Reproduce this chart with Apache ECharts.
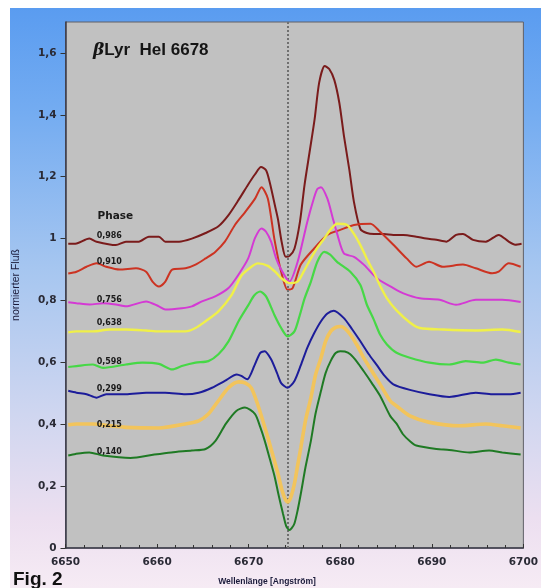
<!DOCTYPE html>
<html><head><meta charset="utf-8">
<script src="https://cdn.jsdelivr.net/npm/echarts@6/dist/echarts.min.js"></script>
<style>html,body{margin:0;padding:0;background:#fff}#c{width:541px;height:588px}</style>
</head><body><div id="c"></div>
<script>
// ---- data ----
const phaseNames = ['0,986','0,910','0,756','0,638','0,598','0,299','0,215','0,140'];
const phaseLabelY = [1.009,0.925,0.803,0.726,0.601,0.514,0.398,0.312];
const yTicks = [0,0.2,0.4,0.6,0.8,1,1.2,1.4,1.6];
const xTicks = [6650,6660,6670,6680,6690,6700];
const lineCenter = 6674.3;

const p0986 = [[6650.3,0.983],[6651.2,0.984],[6652.6,1.000],[6653.4,0.990],[6655.5,0.979],[6656.6,0.990],[6658.0,0.990],[6659.1,1.006],[6660.2,1.006],[6660.9,0.990],[6662.4,0.990],[6663.8,1.000],[6665.3,1.018],[6666.7,1.040],[6667.8,1.076],[6668.9,1.125],[6669.95,1.175],[6670.7,1.208],[6671.35,1.231],[6671.9,1.221],[6672.3,1.182],[6672.9,1.103],[6673.2,1.063],[6673.6,0.990],[6674.05,0.941],[6674.5,0.945],[6675.0,0.967],[6675.6,1.054],[6676.1,1.173],[6676.65,1.279],[6677.2,1.385],[6677.7,1.504],[6678.3,1.558],[6678.8,1.548],[6679.35,1.513],[6679.9,1.439],[6680.4,1.333],[6681.0,1.221],[6681.5,1.118],[6682.2,1.031],[6682.9,1.018],[6683.7,1.015],[6684.75,1.015],[6685.8,1.012],[6686.9,1.012],[6688.3,1.006],[6689.4,1.000],[6690.5,0.996],[6691.6,0.990],[6692.65,1.012],[6693.4,1.015],[6694.5,0.996],[6695.9,0.990],[6697.3,1.012],[6698.4,0.990],[6699.1,0.980],[6699.8,0.983]];

const p0910 = [[6650.3,0.887],[6651.2,0.893],[6652.3,0.909],[6653.4,0.920],[6654.45,0.909],[6655.9,0.900],[6657.7,0.904],[6658.8,0.893],[6659.5,0.861],[6660.2,0.845],[6660.9,0.861],[6661.65,0.900],[6663.1,0.904],[6664.2,0.916],[6665.3,0.936],[6666.35,0.957],[6667.4,0.990],[6668.5,1.044],[6669.6,1.085],[6670.7,1.129],[6671.4,1.166],[6672.1,1.129],[6672.8,1.000],[6673.55,0.893],[6674.25,0.835],[6674.8,0.840],[6675.7,0.916],[6677.15,0.968],[6678.6,1.012],[6680.0,1.028],[6681.5,1.044],[6683.3,1.048],[6684.35,1.022],[6685.8,0.980],[6687.25,0.936],[6688.3,0.909],[6689.7,0.925],[6691.2,0.909],[6693.4,0.916],[6694.8,0.904],[6696.6,0.888],[6697.3,0.893],[6698.4,0.920],[6699.7,0.909]];

const p0756 = [[6650.3,0.794],[6651.2,0.791],[6652.65,0.787],[6654.1,0.791],[6655.5,0.787],[6656.6,0.781],[6658.8,0.797],[6660.2,0.781],[6660.9,0.771],[6662.7,0.775],[6663.8,0.781],[6664.9,0.797],[6666.35,0.813],[6667.8,0.840],[6668.9,0.884],[6669.95,0.936],[6670.7,1.002],[6671.4,1.033],[6671.9,1.022],[6672.45,0.990],[6673.0,0.936],[6673.55,0.900],[6674.45,0.861],[6675.35,0.925],[6676.4,1.054],[6677.1,1.128],[6677.5,1.160],[6677.9,1.166],[6678.6,1.129],[6679.15,1.070],[6679.7,1.012],[6680.4,0.952],[6681.5,0.941],[6682.6,0.915],[6684.0,0.872],[6685.8,0.840],[6686.9,0.823],[6688.7,0.807],[6690.85,0.802],[6692.65,0.786],[6694.8,0.802],[6697.7,0.802],[6699.7,0.795]];

const p0638 = [[6650.3,0.697],[6651.2,0.700],[6653.0,0.700],[6654.8,0.706],[6656.6,0.706],[6658.8,0.703],[6660.2,0.700],[6663.1,0.700],[6664.2,0.711],[6665.3,0.733],[6666.7,0.765],[6668.15,0.818],[6669.2,0.880],[6670.3,0.909],[6671.0,0.920],[6672.1,0.912],[6673.0,0.890],[6673.6,0.871],[6674.45,0.856],[6675.35,0.861],[6676.0,0.893],[6676.8,0.936],[6677.5,0.970],[6678.25,1.000],[6678.9,1.028],[6679.65,1.048],[6680.75,1.044],[6681.5,1.015],[6682.2,0.979],[6682.9,0.935],[6683.65,0.893],[6684.3,0.851],[6685.1,0.807],[6686.15,0.768],[6687.6,0.729],[6688.7,0.711],[6691.2,0.706],[6694.8,0.703],[6697.7,0.706],[6699.7,0.698]];

const p0598 = [[6650.3,0.585],[6651.2,0.588],[6653.0,0.593],[6654.1,0.582],[6656.6,0.593],[6658.4,0.599],[6660.2,0.595],[6661.65,0.577],[6662.7,0.588],[6664.2,0.599],[6665.6,0.604],[6666.7,0.626],[6667.8,0.668],[6668.9,0.733],[6669.95,0.784],[6670.6,0.816],[6671.25,0.829],[6671.9,0.813],[6672.8,0.754],[6673.55,0.711],[6674.25,0.684],[6675.0,0.700],[6675.55,0.749],[6676.1,0.806],[6676.8,0.861],[6677.5,0.925],[6678.25,0.957],[6678.9,0.948],[6679.65,0.925],[6681.1,0.893],[6682.2,0.850],[6682.9,0.787],[6683.65,0.739],[6684.35,0.690],[6685.1,0.658],[6686.15,0.631],[6687.6,0.615],[6689.75,0.599],[6691.9,0.593],[6693.7,0.604],[6695.5,0.599],[6697.0,0.609],[6698.4,0.599],[6699.7,0.593]];

const p0299 = [[6650.3,0.508],[6651.2,0.502],[6652.3,0.497],[6653.4,0.486],[6654.45,0.497],[6656.6,0.497],[6658.8,0.502],[6660.9,0.502],[6663.1,0.497],[6664.55,0.502],[6666.0,0.518],[6667.4,0.540],[6668.7,0.561],[6669.2,0.556],[6669.85,0.545],[6670.65,0.591],[6671.25,0.630],[6671.75,0.636],[6672.45,0.610],[6673.1,0.565],[6673.55,0.533],[6674.25,0.518],[6675.0,0.540],[6675.7,0.591],[6676.4,0.647],[6677.15,0.694],[6677.9,0.733],[6678.6,0.758],[6679.3,0.767],[6680.4,0.743],[6681.3,0.707],[6682.2,0.668],[6683.1,0.627],[6684.0,0.591],[6684.85,0.556],[6685.8,0.529],[6687.6,0.511],[6689.75,0.497],[6691.9,0.488],[6694.8,0.502],[6696.6,0.497],[6698.4,0.497],[6699.7,0.502]];

const p0215 = [[6650.3,0.398],[6651.2,0.401],[6653.0,0.401],[6654.8,0.395],[6656.6,0.390],[6660.2,0.388],[6663.1,0.401],[6664.55,0.411],[6665.6,0.433],[6666.7,0.476],[6667.8,0.518],[6668.9,0.537],[6669.6,0.534],[6670.3,0.517],[6671.0,0.463],[6671.55,0.411],[6672.1,0.357],[6672.65,0.299],[6673.2,0.240],[6673.65,0.186],[6674.0,0.157],[6674.27,0.149],[6674.6,0.164],[6675.0,0.208],[6675.35,0.267],[6675.7,0.325],[6676.2,0.411],[6676.8,0.486],[6677.3,0.559],[6677.9,0.615],[6678.4,0.668],[6678.95,0.700],[6679.5,0.713],[6680.0,0.716],[6680.5,0.710],[6681.1,0.690],[6681.85,0.655],[6682.55,0.615],[6683.45,0.572],[6684.35,0.529],[6685.45,0.476],[6686.15,0.459],[6687.6,0.427],[6689.75,0.406],[6693.0,0.395],[6695.9,0.401],[6697.7,0.395],[6699.7,0.388]];

const p0140 = [[6650.3,0.299],[6651.1,0.304],[6652.6,0.309],[6654.1,0.299],[6657.1,0.291],[6659.7,0.302],[6661.55,0.309],[6663.8,0.315],[6665.3,0.320],[6666.4,0.347],[6667.5,0.401],[6668.65,0.443],[6669.6,0.454],[6670.7,0.433],[6671.25,0.392],[6671.75,0.347],[6672.3,0.289],[6672.85,0.229],[6673.3,0.167],[6673.75,0.111],[6674.1,0.071],[6674.45,0.058],[6674.7,0.064],[6675.0,0.079],[6675.35,0.122],[6675.7,0.176],[6676.2,0.260],[6676.8,0.347],[6677.3,0.434],[6677.9,0.508],[6678.4,0.565],[6678.95,0.604],[6679.5,0.630],[6680.0,0.636],[6680.5,0.635],[6681.1,0.626],[6681.85,0.601],[6682.55,0.572],[6683.45,0.533],[6684.35,0.492],[6685.45,0.427],[6686.15,0.402],[6686.9,0.366],[6687.65,0.344],[6688.3,0.331],[6690.5,0.320],[6691.9,0.317],[6694.1,0.309],[6696.25,0.315],[6697.7,0.309],[6699.7,0.302]];

const seriesData = [p0986,p0910,p0756,p0638,p0598,p0299,p0215,p0140];
const colors = ['#7a1b1b','#cc3322','#d43ad4','#f0f048','#46d846','#1c1c9a','#f2c45c','#1f7a24'];
const widths = [2,2,2,2.4,2.2,2,3.6,2];

// ---- chart ----
const chart = echarts.init(document.getElementById('c'), null, {renderer:'canvas'});
const fmt = v => String(Math.round(v*10)/10).replace('.', ',');
const series = seriesData.map((d,i)=>({
  type:'line', name:phaseNames[i], data:d, showSymbol:false, smooth:0.25,
  lineStyle:{color:colors[i], width:widths[i]}, z:3+i, silent:true
}));
series.push({
  type:'line', data:[], silent:true,
  markLine:{symbol:['none','none'], silent:true, label:{show:false},
    lineStyle:{type:'dotted', color:'#707070', width:2},
    data:[{xAxis:lineCenter}]}
});
chart.setOption({
  animation:false,
  backgroundColor:'transparent',
  title:{text:'{g|β}Lyr  HeI 6678', left:88, top:37,
    textStyle:{fontFamily:'Liberation Sans', fontSize:17, fontWeight:'bold', color:'#151515',
      rich:{g:{fontFamily:'DejaVu Serif', fontStyle:'italic', fontSize:17, color:'#151515'}}}},
  grid:{left:65.5, right:13, top:22, bottom:40, show:true, backgroundColor:'#c1c1c1', borderColor:'#606068', borderWidth:1},
  xAxis:{type:'value', min:6650, max:6700, interval:10,
    axisLine:{show:true, lineStyle:{color:'#3a3a48', width:1.5}},
    axisTick:{show:true, inside:true, length:4, lineStyle:{color:'#333'}},
    minorTick:{show:true, splitNumber:5, length:3, lineStyle:{color:'#333'}},
    splitLine:{show:false},
    axisLabel:{margin:9, fontFamily:'DejaVu Sans', fontWeight:'bold', fontSize:10.5, color:'#2a2a35', formatter:v=>String(v)}
  },
  yAxis:{type:'value', min:0, max:1.7, interval:0.2,
    axisLine:{show:true, lineStyle:{color:'#3a3a48', width:1.5}},
    axisTick:{show:true, length:5, lineStyle:{color:'#333'}},
    splitLine:{show:false},
    axisLabel:{margin:9, showMaxLabel:false, fontFamily:'DejaVu Sans', fontWeight:'bold', fontSize:10.5, color:'#2a2a35', formatter:fmt},
    name:'normierter Fluß', nameLocation:'middle', nameGap:44, nameRotate:90,
    nameTextStyle:{fontFamily:'Liberation Sans', fontSize:10.5, color:'#1a1a3a'}
  },
  series
});

// background panel + text labels
const g = [];
g.push({type:'rect', z:-10, silent:true, shape:{x:10,y:8,width:531,height:580},
  style:{fill:new echarts.graphic.LinearGradient(0,0,0,1,[
    {offset:0,color:'#5a9cf0'},{offset:0.18,color:'#74acf1'},{offset:0.45,color:'#a6c6f0'},
    {offset:0.7,color:'#cfd6f0'},{offset:0.88,color:'#ecdff0'},{offset:1,color:'#f6ebf4'}])}});
const phasePos = chart.convertToPixel({gridIndex:0},[6653.5,1.073]);
g.push({type:'text', z:20, silent:true, style:{text:'Phase', x:phasePos[0], y:phasePos[1], align:'left', verticalAlign:'middle',
  font:'bold 10.5px "DejaVu Sans"', fill:'#1a1a1a'}});
phaseNames.forEach((n,i)=>{
  const p = chart.convertToPixel({gridIndex:0},[6653.4, phaseLabelY[i]]);
  g.push({type:'text', z:20, silent:true, style:{text:n, x:p[0], y:p[1], align:'left', verticalAlign:'middle',
    font:'bold 8px "DejaVu Sans"', fill:'#1a1a1a'}});
});
g.push({type:'text', z:20, silent:true, style:{text:'Wellenlänge [Angström]', x:267, y:582, align:'center', verticalAlign:'middle',
  font:'bold 8.5px "Liberation Sans"', fill:'#1a1a3a'}});
g.push({type:'text', z:20, silent:true, style:{text:'Fig. 2', x:13, y:580, align:'left', verticalAlign:'middle',
  font:'bold 19px "Liberation Sans"', fill:'#111'}});
chart.setOption({graphic:g});
</script></body></html>
